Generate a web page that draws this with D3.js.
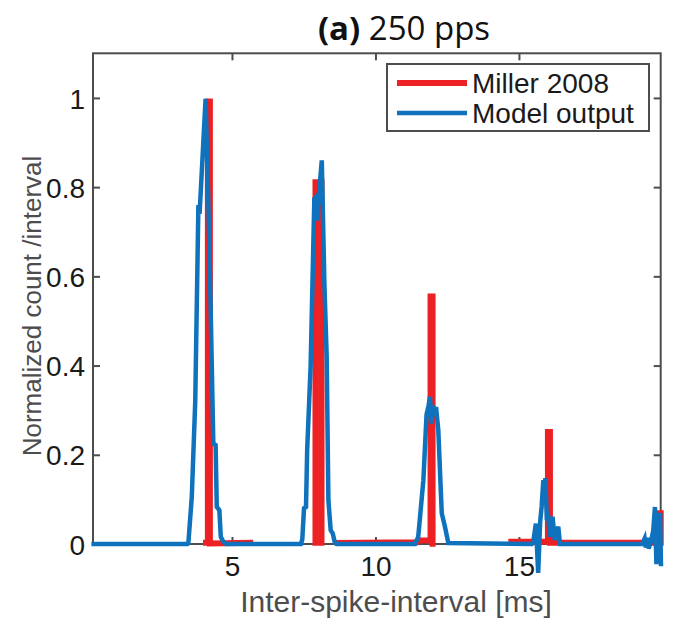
<!DOCTYPE html>
<html>
<head>
<meta charset="utf-8">
<script src="https://cdn.jsdelivr.net/npm/d3@7"></script>
<style>
  html, body { margin: 0; padding: 0; background: #fff; }
  svg { display: block; }
</style>
</head>
<body>
<svg id="chart" width="675" height="621"></svg>
<script>
// ---------- data ----------
const titleBold = "(a)";
const titleRest = " 250 pps";
const xLabel = "Inter-spike-interval [ms]";
const yLabel = "Normalized count /interval";
const seriesNames = ["Miller 2008", "Model output"];
const xTicks = [5, 10, 15];
const yTicks = [0, 0.2, 0.4, 0.6, 0.8, 1];
const yTickLabels = ["0", "0.2", "0.4", "0.6", "0.8", "1"];

// Miller 2008 (null separates drawn segments)
const millerX = [3.99, 4.16, 4.16, 4.23, 4.23, 5.74, null,
                 7.91, 7.91, 8.12, 8.12, null,
                 8.6, 11.45, 11.5, 11.92, 11.92, 11.99, 11.99, null,
                 14.63, 16.01, 16.01, 16.08, 16.08, 19.88, 19.88, 19.94, 19.94];
const millerY = [0.003, 0.003, 0.992, 0.992, 0.001, 0.003, null,
                 -0.004, 0.811, 0.811, -0.004, null,
                 0.002, 0.004, 0.008, 0.008, 0.555, 0.555, -0.006, null,
                 0.005, 0.005, 0.251, 0.251, 0.003, 0.003, 0.069, 0.069, -0.004];

// Model output
const modelX = [0.1, 3.45, 3.48, 3.60, 3.72, 3.83, 3.87, 3.92, 4.08, 4.21, 4.35, 4.43, 4.47, 4.56, 4.61, 4.70, 4.8,
                7.40, 7.45, 7.51, 7.58, 7.62, 7.74, 7.87, 7.93, 7.95, 8.13, 8.22, 8.30, 8.36, 8.44, 8.51, 8.59, 8.65,
                11.38, 11.49, 11.67, 11.78, 11.85, 11.90, 11.95, 12.01, 12.06, 12.11, 12.19, 12.31, 12.42, 12.54,
                15.45, 15.50, 15.59, 15.67, 15.74, 15.79, 15.85, 15.88, 15.92, 15.97, 16.02, 16.08, 16.17, 16.25, 16.37, 16.43,
                19.30, 19.38, 19.42, 19.47, 19.52, 19.60, 19.68, 19.74, 19.79, 19.84, 19.88, 19.92, 19.95];
const modelY = [0, 0, 0.002, 0.106, 0.32, 0.76, 0.74, 0.80, 0.998, 0.68, 0.225, 0.222, 0.083, 0.076, 0.016, 0.005, 0,
                0, 0.01, 0.080, 0.083, 0.21, 0.397, 0.774, 0.778, 0.725, 0.86, 0.584, 0.42, 0.098, 0.031, 0.024, 0.002, 0,
                0, 0.016, 0.143, 0.29, 0.31, 0.33, 0.27, 0.31, 0.29, 0.307, 0.255, 0.069, 0.039, 0.002,
                0, 0.005, 0.046, -0.065, 0.05, 0.083, 0.143, 0.09, 0.148, 0.06, 0.061, 0.016, 0.061, 0.009, 0.039, 0,
                0, 0.012, -0.008, 0.014, -0.01, 0.005, 0.03, 0.083, -0.045, 0.06, 0.02, 0.07, -0.05];

// ---------- layout ----------
const svg = d3.select("#chart");
const m = {left: 93, right: 675 - 660.7, top: 53.3, bottom: 621 - 544};
const W = 675, H = 621;
const x = d3.scaleLinear().domain([0.157, 19.94]).range([m.left, W - m.right]);
const y = d3.scaleLinear().domain([0, 1.1]).range([H - m.bottom, m.top]);

const axisColor = "#4d4d4d";
const red = "#ED2024";
const blue = "#0E72BD";
const font = "'Liberation Sans', Arial, Helvetica, sans-serif";

const line = d3.line()
  .defined(d => d[0] !== null && d[1] !== null)
  .x(d => x(d[0])).y(d => y(d[1]));

const millerData = millerX.map((v, i) => [v, millerY[i]]);
const modelData = modelX.map((v, i) => [v, modelY[i]]);

// axes box
const gAx = svg.append("g");
gAx.append("rect")
  .attr("x", x.range()[0]).attr("y", y.range()[1])
  .attr("width", x.range()[1] - x.range()[0])
  .attr("height", y.range()[0] - y.range()[1])
  .attr("fill", "none").attr("stroke", axisColor).attr("stroke-width", 2);

const tl = 7;
const xb = d3.axisBottom(x).tickValues(xTicks).tickSizeInner(-tl).tickSizeOuter(0).tickFormat(d3.format("d"));
const gxb = svg.append("g").attr("transform", `translate(0,${y.range()[0]})`).call(xb);
const xt = d3.axisTop(x).tickValues(xTicks).tickSizeInner(-tl).tickSizeOuter(0).tickFormat("");
const gxt = svg.append("g").attr("transform", `translate(0,${y.range()[1]})`).call(xt);
const yl = d3.axisLeft(y).tickValues(yTicks).tickSizeInner(-tl).tickSizeOuter(0).tickFormat((d, i) => yTickLabels[i]);
const gyl = svg.append("g").attr("transform", `translate(${x.range()[0]},0)`).call(yl);
const yr = d3.axisRight(y).tickValues(yTicks).tickSizeInner(-tl).tickSizeOuter(0).tickFormat("");
const gyr = svg.append("g").attr("transform", `translate(${x.range()[1]},0)`).call(yr);

[gxb, gxt, gyl, gyr].forEach(g => {
  g.select(".domain").remove();
  g.selectAll(".tick line").attr("stroke", axisColor).attr("stroke-width", 2);
  g.selectAll(".tick text").attr("fill", "#1a1a1a").attr("font-family", font).attr("font-size", 28);
});
gxb.selectAll(".tick text").attr("dy", null).attr("y", 12).attr("dominant-baseline", "hanging");
gyl.selectAll(".tick text").attr("x", -8).attr("dy", "0.36em");

// data lines
svg.append("path").datum(millerData).attr("d", line)
  .attr("fill", "none").attr("stroke", red).attr("stroke-width", 6)
  .attr("stroke-linejoin", "miter").attr("stroke-miterlimit", 10);
svg.append("path").datum(modelData).attr("d", line)
  .attr("fill", "none").attr("stroke", blue).attr("stroke-width", 4.5)
  .attr("stroke-linejoin", "miter").attr("stroke-miterlimit", 4);

// legend
const lg = svg.append("g");
lg.append("rect").attr("x", 387).attr("y", 64).attr("width", 262).attr("height", 67)
  .attr("fill", "#fff").attr("stroke", axisColor).attr("stroke-width", 2);
const lgColors = [red, blue];
const lgW = [6, 4.5];
seriesNames.forEach((name, i) => {
  const cy = 83 + i * 30;
  lg.append("line").attr("x1", 397).attr("x2", 467).attr("y1", cy).attr("y2", cy)
    .attr("stroke", lgColors[i]).attr("stroke-width", lgW[i]);
  lg.append("text").attr("x", 472).attr("y", cy).attr("dy", "0.36em")
    .attr("font-family", font).attr("font-size", 28).attr("fill", "#1a1a1a").text(name);
});

// axis labels
svg.append("text").attr("x", 396).attr("y", 612).attr("text-anchor", "middle")
  .attr("font-family", font).attr("font-size", 30).attr("fill", "#4d4d4d").text(xLabel);
svg.append("text").attr("transform", `translate(32,306) rotate(-90)`)
  .attr("text-anchor", "middle").attr("dy", "0.36em")
  .attr("font-family", font).attr("font-size", 26).attr("fill", "#4d4d4d").text(yLabel);

// title
const t = svg.append("text").attr("x", 404).attr("y", 40).attr("text-anchor", "middle")
  .attr("font-family", "'Open Sans', 'Noto Sans', sans-serif").attr("font-size", 33).attr("fill", "#111");
t.append("tspan").attr("font-weight", "bold").text(titleBold);
t.append("tspan").text(titleRest);
</script>
</body>
</html>
